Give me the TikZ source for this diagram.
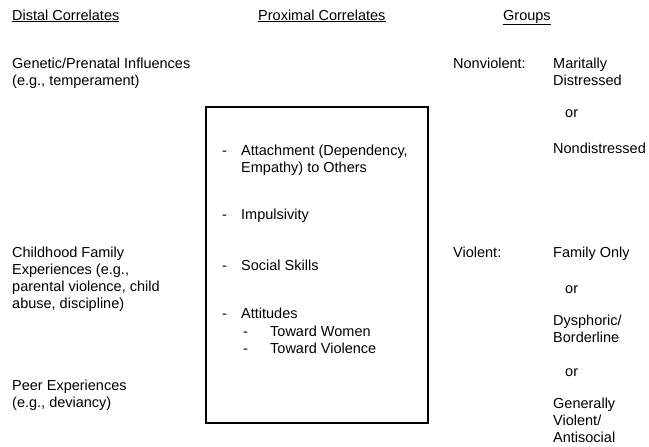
\documentclass[tikz,border=0pt]{standalone}
\usepackage{fontspec}
\setmainfont{Liberation Sans}
\usepackage{tikz}

\begin{document}
\begin{tikzpicture}[x=1pt, y=-1pt,
    every node/.style={anchor=base west, inner sep=0pt, align=left,
        font=\fontsize{14.5}{17}\selectfont}]

    \useasboundingbox (0,0) rectangle (649,447);

    % Column heads
    \node (distal)   at (12, 20)  {\underline{Distal Correlates}};
    \node (proximal) at (258, 20) {\underline{Proximal Correlates}};
    \node (groups)   at (503, 20) {\underline{Groups}};

    % Distal correlates (y is the baseline of the last line)
    \node (genetic)   at (12, 85)  {Genetic/Prenatal Influences\\(e.g., temperament)};
    \node (childhood) at (12, 308) {Childhood Family\\Experiences (e.g.,\\parental violence, child\\abuse, discipline)};
    \node (peer)      at (12, 407) {Peer Experiences\\(e.g., deviancy)};

    % Proximal correlates box
    \coordinate (box-nw) at (206, 107);
    \coordinate (box-se) at (428, 423);
    \draw[line width=1.1pt] (box-nw) rectangle (box-se);

    \foreach \n/\d/\y/\t in {attach/155/172/{Attachment (Dependency,\\Empathy) to Others},
                             impuls/219/219/{Impulsivity},
                             social/270/270/{Social Skills},
                             attit/318/318/{Attitudes}} {
        \node (\n-dash) at (222, \d) {-};
        \node (\n)      at (241, \y) {\t};
    }
    \foreach \n/\y/\t in {women/336/{Toward Women}, viol/353/{Toward Violence}} {
        \node (\n-dash) at (243, \y) {-};
        \node (\n)      at (270, \y) {\t};
    }

    % Groups
    \node (nonviolent)    at (453, 68)  {Nonviolent:};
    \node (maritally)     at (553, 85)  {Maritally\\Distressed};
    \node (or1)           at (565, 117) {or};
    \node (nondistressed) at (553, 153) {Nondistressed};

    \node (violent)    at (453, 257) {Violent:};
    \node (familyonly) at (553, 257) {Family Only};
    \node (or2)        at (565, 293) {or};
    \node (dysphoric)  at (553, 342) {Dysphoric/\\Borderline};
    \node (or3)        at (565, 376) {or};
    \node (generally)  at (553, 442) {Generally\\Violent/\\Antisocial};

\end{tikzpicture}
\end{document}
